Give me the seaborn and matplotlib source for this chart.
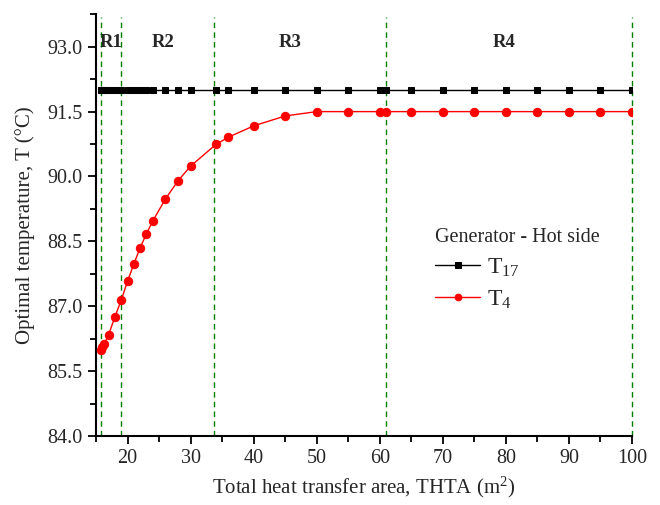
import matplotlib
matplotlib.use("Agg")
import matplotlib.pyplot as plt
import seaborn as sns
import pandas as pd

# ---- data ----
area = [15.8, 16.0, 16.3, 17, 18, 19, 20, 21, 22, 23, 24, 26, 28, 30, 34, 36,
        40, 45, 50, 55, 60, 61, 65, 70, 75, 80, 85, 90, 95, 100]
t17 = [92.0] * len(area)
t4 = [86.00, 86.05, 86.13, 86.34, 86.76, 87.14, 87.58, 87.98, 88.35, 88.68,
      88.97, 89.48, 89.90, 90.24, 90.74, 90.91, 91.17, 91.40, 91.50, 91.50,
      91.50, 91.50, 91.50, 91.50, 91.50, 91.50, 91.50, 91.50, 91.50, 91.50]
region_bounds = [15.75, 19, 33.7, 61, 100]
region_labels = ["R1", "R2", "R3", "R4"]
region_label_x = [17.4, 25.6, 45.8, 79.7]
x_ticks = [20, 30, 40, 50, 60, 70, 80, 90, 100]
y_ticks = [84.0, 85.5, 87.0, 88.5, 90.0, 91.5, 93.0]

sns.set_style("ticks")
plt.rcParams["font.family"] = ["Liberation Serif", "DejaVu Serif"]
plt.rcParams["mathtext.fontset"] = "custom"
plt.rcParams["mathtext.rm"] = "Liberation Serif"
plt.rcParams["mathtext.it"] = "Liberation Serif:italic"
plt.rcParams["mathtext.bf"] = "Liberation Serif:bold"

fig = plt.figure(figsize=(6.6, 5.05), dpi=100)
ax = fig.add_axes([0.1455, 0.1366, 0.8121, 0.8351])

df = pd.DataFrame({"area": area, "t17": t17, "t4": t4})

sns.lineplot(data=df, x="area", y="t17", ax=ax, color="black", lw=1.0,
             marker="s", markersize=5.0, markeredgecolor="black",
             label="T$_{17}$", zorder=3)
sns.lineplot(data=df, x="area", y="t4", ax=ax, color="red", lw=1.0,
             marker="o", markersize=6.0, markeredgecolor="red",
             label="T$_{4}$", zorder=3)

for xb in region_bounds:
    ax.plot([xb, xb], [84.0, 93.68], color="green", lw=1.0,
            linestyle=(0, (4, 3)), zorder=2, clip_on=False)

for lab, xl in zip(region_labels, region_label_x):
    ax.text(xl, 93.1, lab, ha="center", va="center", fontsize=13.5,
            fontweight="bold")

ax.set_xlim(15, 100)
ax.set_ylim(84.0, 93.75)
ax.set_xticks(x_ticks)
ax.set_xticks([15, 25, 35, 45, 55, 65, 75, 85, 95], minor=True)
ax.set_yticks(y_ticks)
ax.set_yticks([84.75, 86.25, 87.75, 89.25, 90.75, 92.25, 93.75], minor=True)
ax.set_yticklabels([f"{v:.1f}" for v in y_ticks])
ax.tick_params(which="major", direction="out", length=6, width=1.3,
               labelsize=14.5, color="black")
ax.tick_params(which="minor", direction="out", length=4, width=1.3,
               color="black")

sns.despine(ax=ax)
for s in ["left", "bottom"]:
    ax.spines[s].set_linewidth(1.5)
    ax.spines[s].set_color("black")

ax.set_xlabel("Total heat transfer area, THTA (m$^{2}$)", fontsize=15,
              labelpad=5)
ax.set_ylabel("Optimal temperature, T (\u00b0C)", fontsize=15, labelpad=9)

leg = ax.legend(title="Generator - Hot side", loc="upper left",
                bbox_to_anchor=(0.615, 0.515), frameon=False, fontsize=17,
                title_fontsize=14.5, alignment="left", handlelength=1.9,
                handletextpad=0.3, labelspacing=0.4, borderaxespad=0.0,
                markerscale=0.8)

fig.savefig("out.png", dpi=100)
